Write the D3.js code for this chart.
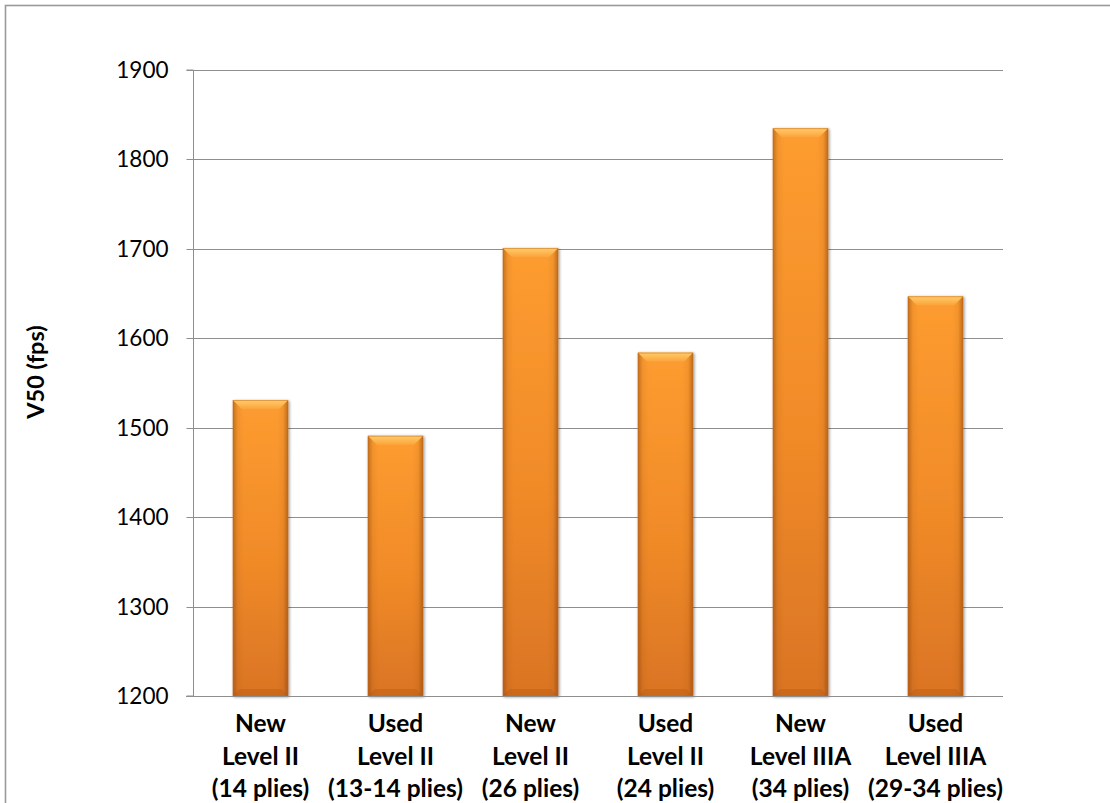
<!DOCTYPE html>
<html>
<head>
<meta charset="utf-8">
<script src="https://cdn.jsdelivr.net/npm/d3@7"></script>
<style>
  html, body { margin: 0; padding: 0; background: #fff; }
  svg { display: block; }
</style>
</head>
<body>
<svg id="chart" width="1110" height="803"></svg>
<script>
// ---- data ----
const categories = [
  ["New", "Level II", "(14 plies)"],
  ["Used", "Level II", "(13-14 plies)"],
  ["New", "Level II", "(26 plies)"],
  ["Used", "Level II", "(24 plies)"],
  ["New", "Level IIIA", "(34 plies)"],
  ["Used", "Level IIIA", "(29-34 plies)"]
];
const values = [1531, 1491, 1701, 1584, 1835, 1647];
const yTicks = [1200, 1300, 1400, 1500, 1600, 1700, 1800, 1900];
const yTitle = "V50 (fps)";

// ---- layout ----
const W = 1110, H = 803;
const margin = { left: 193, right: 107, top: 70, bottom: 107 };
const svg = d3.select("#chart");
const defs = svg.append("defs");

// outer border (right/bottom lie outside the picture)
svg.append("rect").attr("x", 5.5).attr("y", 5.5).attr("width", 1300).attr("height", 1000)
  .attr("fill", "none").attr("stroke", "#9a9a9a").attr("stroke-width", 1.6);

const x = d3.scaleBand().domain(d3.range(categories.length))
  .range([margin.left, W - margin.right]).paddingInner(0.59).paddingOuter(0.295);
const y = d3.scaleLinear().domain([1200, 1900]).range([H - margin.bottom, margin.top]);

// gridlines
svg.append("g").selectAll("line").data(yTicks.slice(1)).join("line")
  .attr("x1", margin.left).attr("x2", W - margin.right)
  .attr("y1", d => Math.round(y(d)) + 0.5).attr("y2", d => Math.round(y(d)) + 0.5)
  .attr("stroke", "#8e8e8e").attr("stroke-width", 1);

// y axis
const yAxis = svg.append("g").attr("transform", `translate(${margin.left + 0.5},0)`)
  .call(d3.axisLeft(y).tickValues(yTicks).tickSize(7).tickPadding(18).tickFormat(d3.format("d")));
yAxis.select(".domain").attr("stroke", "#8e8e8e").attr("d", `M-7,${y(1900)}H0V${y(1200)}H-7`);
yAxis.selectAll(".tick line").attr("stroke", "#8e8e8e");
yAxis.selectAll(".tick text").attr("font-family", "Lato, 'Open Sans', sans-serif")
  .attr("font-size", 22.5).attr("fill", "#000");
yAxis.selectAll(".tick").attr("transform", d => `translate(0,${Math.round(y(d)) + 0.5})`);

// bar gradients
const gv = defs.append("linearGradient").attr("id", "gv").attr("x1", 0).attr("y1", 0).attr("x2", 0).attr("y2", 1);
gv.append("stop").attr("offset", "0%").attr("stop-color", "#fd9c30");
gv.append("stop").attr("offset", "55%").attr("stop-color", "#f08a28");
gv.append("stop").attr("offset", "100%").attr("stop-color", "#da7424");
const gh = defs.append("linearGradient").attr("id", "gh").attr("x1", 0).attr("y1", 0).attr("x2", 1).attr("y2", 0);
gh.append("stop").attr("offset", "0%").attr("stop-color", "#7a3a08").attr("stop-opacity", 0.45);
gh.append("stop").attr("offset", "9%").attr("stop-color", "#7a3a08").attr("stop-opacity", 0.08);
gh.append("stop").attr("offset", "20%").attr("stop-color", "#7a3a08").attr("stop-opacity", 0);
gh.append("stop").attr("offset", "80%").attr("stop-color", "#7a3a08").attr("stop-opacity", 0);
gh.append("stop").attr("offset", "91%").attr("stop-color", "#7a3a08").attr("stop-opacity", 0.08);
gh.append("stop").attr("offset", "100%").attr("stop-color", "#7a3a08").attr("stop-opacity", 0.5);
const gt = defs.append("linearGradient").attr("id", "gt").attr("x1", 0).attr("y1", 0).attr("x2", 0).attr("y2", 1);
gt.append("stop").attr("offset", "0%").attr("stop-color", "#ffd070");
gt.append("stop").attr("offset", "100%").attr("stop-color", "#fca43a");
const filt = defs.append("filter").attr("id", "sh").attr("x", "-20%").attr("y", "-5%").attr("width", "140%").attr("height", "110%");
filt.append("feGaussianBlur").attr("in", "SourceAlpha").attr("stdDeviation", 1.5).attr("result", "b");
filt.append("feOffset").attr("in", "b").attr("dx", 1).attr("dy", 1).attr("result", "o");
filt.append("feComponentTransfer").attr("in", "o").attr("result", "o2")
  .append("feFuncA").attr("type", "linear").attr("slope", 0.45);
const fm = filt.append("feMerge");
fm.append("feMergeNode").attr("in", "o2");
fm.append("feMergeNode").attr("in", "SourceGraphic");

const bars = svg.append("g").selectAll("g").data(values).join("g")
  .attr("filter", "url(#sh)");
bars.append("rect")
  .attr("x", (d, i) => x(i)).attr("width", x.bandwidth())
  .attr("y", d => y(d)).attr("height", d => y(1200) - y(d))
  .attr("fill", "url(#gv)");
bars.append("rect")
  .attr("x", (d, i) => x(i)).attr("width", x.bandwidth())
  .attr("y", d => y(d)).attr("height", d => y(1200) - y(d))
  .attr("fill", "url(#gh)");
// top bevel
bars.append("path").attr("d", (d, i) => {
  const x0 = x(i), x1 = x(i) + x.bandwidth(), t = y(d), b = 9;
  return `M${x0},${t}H${x1}L${x1 - b},${t + b}H${x0 + b}Z`;
}).attr("fill", "url(#gt)").attr("opacity", 0.95);
// bottom bevel
bars.append("path").attr("d", (d, i) => {
  const x0 = x(i), x1 = x(i) + x.bandwidth(), bt = y(1200), b = 7;
  return `M${x0},${bt}H${x1}L${x1 - b},${bt - b}H${x0 + b}Z`;
}).attr("fill", "#a85412").attr("opacity", 0.28);
// thin outline
bars.append("rect")
  .attr("x", (d, i) => x(i) + 0.5).attr("width", x.bandwidth() - 1)
  .attr("y", d => y(d) + 0.5).attr("height", d => y(1200) - y(d) - 1)
  .attr("fill", "none").attr("stroke", "#c86a1c").attr("stroke-opacity", 0.5);

// x axis line
svg.append("line").attr("x1", margin.left - 7).attr("x2", W - margin.right)
  .attr("y1", Math.round(y(1200)) + 0.5).attr("y2", Math.round(y(1200)) + 0.5)
  .attr("stroke", "#8e8e8e");

// category labels
const lab = svg.append("g").selectAll("text").data(categories).join("text")
  .attr("text-anchor", "middle")
  .attr("font-family", "Lato, 'Open Sans', sans-serif").attr("font-weight", "bold")
  .attr("font-size", 24.5).attr("fill", "#000");
lab.each(function (d, i) {
  const t = d3.select(this);
  d.forEach((line, k) => {
    t.append("tspan").attr("x", x(i) + x.bandwidth() / 2).attr("y", 732 + k * 32.5).text(line);
  });
});

// y title
svg.append("text").attr("transform", `translate(44,${372}) rotate(-90)`)
  .attr("text-anchor", "middle").attr("font-family", "Lato, 'Open Sans', sans-serif")
  .attr("font-weight", "bold").attr("font-size", 23.5).attr("fill", "#000").text(yTitle);
</script>
</body>
</html>
